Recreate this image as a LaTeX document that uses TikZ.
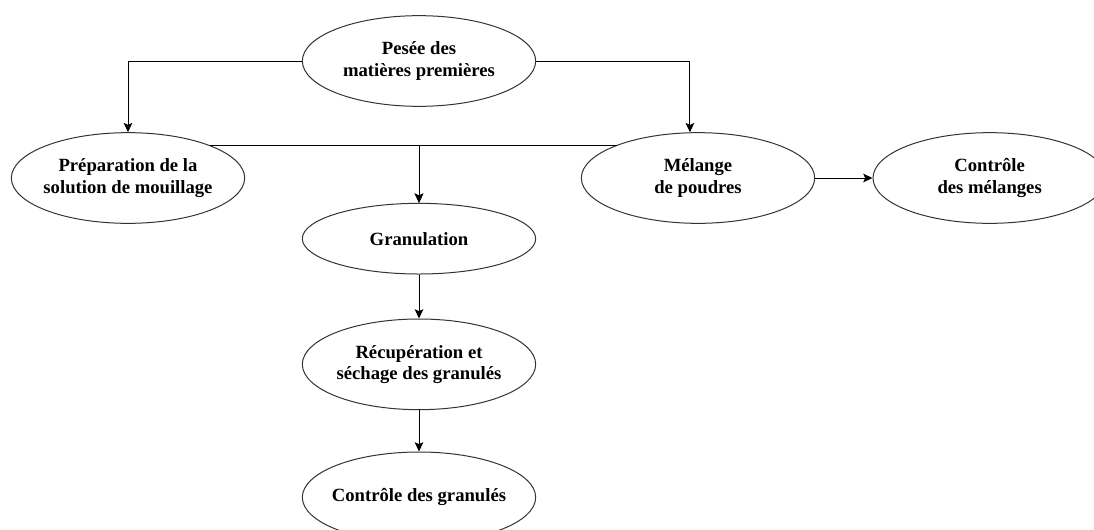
\documentclass[tikz,border=0pt]{standalone}
\usepackage{fontspec}
\setmainfont{Liberation Serif}
\usepackage{tikz}
\usetikzlibrary{positioning, arrows.meta, shapes.geometric}

\begin{document}
\begin{tikzpicture}[
        x=0.75pt, y=-0.75pt,
        proc/.style={ellipse, draw=black!80, line width=0.75pt, inner sep=-20pt, minimum width=175pt, minimum height=#1, font=\fontsize{14}{16}\selectfont\bfseries, align=center},
        proc/.default=68pt,
        arr/.style={-{Stealth[length=7pt, width=6.5pt, inset=1.5pt]}, line width=0.75pt},
        conn/.style={line width=0.75pt},
    ]
    \useasboundingbox (0,0) rectangle (1094,529);

    % ---- TOP ROW ----
    \node[proc] (pesee) at (419,61) {Pesée des\\matières premières};
    \node[proc] (prep) at (128,178) {Préparation de la\\solution de mouillage};
    \node[proc] (mel) at (698,178) {Mélange\\de poudres};
    \node[proc, right=43pt of mel] (ctrlmel) {Contrôle\\des mélanges};

    % ---- GRANULATION CHAIN ----
    \node[proc=53pt, below=72pt of pesee] (gran) {Granulation};
    \node[proc, below=33pt of gran] (recup) {Récupération et\\séchage des granulés};
    \node[proc, below=31pt of recup] (ctrlgran) {Contrôle des granulés};

    % ---- ARROWS ----
    \draw[arr] (pesee.west) -| (prep.north);
    \draw[arr] (pesee.east) -| (mel.100);
    \draw[arr] (prep.22) -| (gran.north);
    \draw[arr] (mel.158) -| (gran.north);
    \draw[arr] (mel) -- (ctrlmel);
    \draw[arr] (gran) -- (recup);
    \draw[arr] (recup) -- (ctrlgran);

\end{tikzpicture}
\end{document}
